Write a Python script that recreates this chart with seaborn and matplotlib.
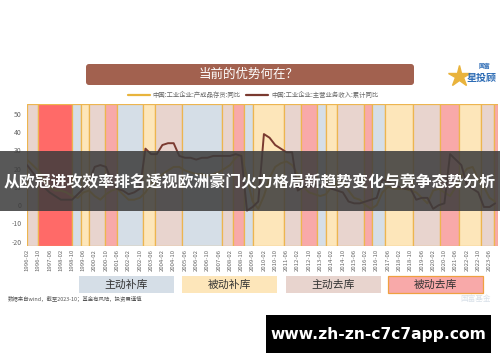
import numpy as np
import pandas as pd
import matplotlib
matplotlib.use("Agg")
import matplotlib.pyplot as plt
import seaborn as sns
from matplotlib.patches import Rectangle, FancyBboxPatch

sns.set_theme(style="white")
plt.rcParams["font.family"] = ["Noto Sans CJK SC", "DejaVu Sans"]
plt.rcParams["axes.unicode_minus"] = False

# ---------------- data ----------------
series_names = ["中国:工业企业:产成品存货:同比", "中国:工业企业:主营业务收入:累计同比"]
start_month = "1996-02"
end_month = "2023-10"
step_months = 4  # one reading every 4 months (Feb, Jun, Oct)

inventory_yoy = [
    25, 22, 19,   14, 10, 8,    8, 7, 5,      4, 7, 8,
    5, 3, 6,      8, 9, 6,      3, 3, 4,      7, 12, 14,
    17, 19, 21,   21, 19, 18,   17, 17, 16,   17, 18, 20,
    22, 26, 28,   15, 2, -2,    5, 15, 21,    23, 24, 22,
    17, 10, 7,    6, 5, 6,      10, 12, 13,   8, 4, 3,
    0, -2, 0,     7, 10, 9,     9, 9, 8,      7, 4, 1,
    8, 9, 7,      5, 10, 16,    20, 21, 14,   10, 4, 2,
]
revenue_yoy = [
    22, 18, 14,   10, 7, 5,     3, 3, 3,      6, 9, 13,
    21, 22, 21,   13, 9, 8,     6, 7, 9,      31, 28, 28,
    33, 34, 34,   27, 26, 26,   25, 26, 26,   27, 27, 27,
    27, 28, 27,   -3, -1, 2,    39, 37, 33,   31, 29, 29,
    8, 10, 10,    11, 11, 11,   9, 8, 7,      2, 1, 1,
    2, 3, 4,      14, 13, 11,   10, 9, 9,     3, 4, 4,
    -2, 0, 1,     28, 25, 22,   11, 9, 7,     -1, -1, 1,
]

phase_names = ["主动补库", "被动补库", "主动去库", "被动去库"]
band_starts = ["1996-02", "1996-10", "1998-10", "1999-04", "1999-10", "2000-09",
               "2001-06", "2002-12", "2003-09", "2005-04", "2007-08", "2008-04",
               "2008-12", "2009-06", "2011-04", "2012-04", "2013-04", "2013-10",
               "2014-06", "2016-01", "2016-07", "2017-04", "2018-12", "2020-07",
               "2021-08", "2022-12", "2023-09"]
band_kinds = ["主动去库", "被动去库*", "主动补库", "被动补库", "主动去库", "被动去库",
              "主动补库", "被动补库", "主动去库", "主动补库", "主动去库", "被动去库",
              "主动补库", "被动补库", "主动去库", "被动去库", "主动补库", "被动补库",
              "主动去库", "被动去库", "主动补库", "被动补库", "主动去库", "被动去库",
              "被动补库", "主动去库", "被动去库"]
band_end = "2023-12"

tick_labels = ["1996-02", "1996-10", "1997-06", "1998-02", "1998-10", "1999-06",
               "2000-02", "2000-10", "2001-06", "2002-02", "2002-10", "2003-06",
               "2004-02", "2004-10", "2005-06", "2006-02", "2006-10", "2007-06",
               "2008-02", "2008-10", "2009-06", "2010-02", "2010-10", "2011-06",
               "2012-02", "2012-10", "2013-06", "2014-02", "2014-10", "2015-06",
               "2016-02", "2016-10", "2017-06", "2018-02", "2018-10", "2019-06",
               "2020-02", "2020-10", "2021-06", "2022-02", "2022-10", "2023-06"]

# ---------------- styles ----------------
line_colors = ["#E8B43C", "#7A3A30"]
phase_colors = {"主动补库": "#D5DEE7", "被动补库": "#FDE6BA", "主动去库": "#E8D4CE",
                "被动去库": "#F8A9A9", "被动去库*": "#FF6A68"}
gold = "#EDB54F"

base = pd.Period(start_month, "M")


def midx(s):
    return (pd.Period(s, "M") - base).n


months = pd.period_range(start_month, end_month, freq="M")[::step_months]
pos = [(p - base).n for p in months]
df = pd.DataFrame({
    "pos": pos * 2,
    "value": inventory_yoy + revenue_yoy,
    "series": [series_names[0]] * len(pos) + [series_names[1]] * len(pos),
})

W, H = 500, 362
fig = plt.figure(figsize=(W / 100, H / 100), dpi=100)
fig.patch.set_facecolor("white")
ax = fig.add_axes([27 / W, 1 - 246 / H, 471 / W, 142 / H])
ax.set_facecolor("white")

edges = [midx(s) for s in band_starts] + [midx(band_end)]
for i, k in enumerate(band_kinds):
    ax.axvspan(edges[i], edges[i + 1], facecolor=phase_colors[k], edgecolor=gold,
               linewidth=0.9, zorder=0)

sns.lineplot(data=df, x="pos", y="value", hue="series", palette=line_colors,
             linewidth=1.4, ax=ax, zorder=3)

ax.set_xlim(0, midx(band_end))
ax.set_ylim(-22.4, 55.5)
ax.set_yticks([-20, -10, 0, 10, 20, 30, 40, 50])
ax.set_xticks([midx(t) for t in tick_labels])
ax.set_xticklabels(tick_labels, rotation=90)
ax.tick_params(axis="x", labelsize=4.3, colors="#666666", length=0, pad=2)
ax.tick_params(axis="y", labelsize=5, colors="#666666", length=0, pad=4)
ax.set_xlabel("")
ax.set_ylabel("")
for s in ax.spines.values():
    s.set_visible(False)

leg = ax.legend(loc="center", bbox_to_anchor=(0.48, 1.065), ncol=2, frameon=False,
                fontsize=4.6, handlelength=3.4, columnspacing=0.8,
                handletextpad=0.5, labelcolor="#666666")
for h in leg.get_lines():
    h.set_linewidth(1.6)

# ---------------- overlay decorations ----------------
ov = fig.add_axes([0, 0, 1, 1], zorder=10)
ov.set_xlim(0, W)
ov.set_ylim(H, 0)
ov.axis("off")
ov.patch.set_alpha(0)

ov.add_patch(FancyBboxPatch((86, 64), 328, 21,
                            boxstyle="round,pad=0,rounding_size=3",
                            fc="#A2614F", ec="none"))
ov.text(249, 74.5, "当前的优势何在？", color="white", fontsize=9,
        ha="center", va="center")

# logo
ov.plot(459, 76, marker="*", ms=16, color="#E9B33C", mec="#E9B33C")
ov.text(482, 78, "星投顾", color="#2D6CB5", fontsize=7.2, fontweight="bold",
        ha="center", va="center")
ov.text(484, 66, "国富", color="#2D6CB5", fontsize=4.2, fontweight="bold",
        ha="center", va="center")

# phase legend boxes
box_x = [79, 182, 286, 388]
for name, x0 in zip(phase_names, box_x):
    ec = "#F0A040" if name == "被动去库" else "none"
    ov.add_patch(Rectangle((x0, 276), 95, 17, fc=phase_colors[name], ec=ec, lw=0.9))
    ov.text(x0 + 47.5, 284.5, name, fontsize=7.8, color="#333333",
            ha="center", va="center")

ov.text(476, 299, "国富基金", fontsize=5.5, color="#9FB3C8", alpha=0.4,
        ha="center", va="center")

ov.text(8, 299, "数据来自wind，截至2023-10；基金有风险，投资需谨慎",
        fontsize=3.9, color="#555555", ha="left", va="center")

# banner
ov.add_patch(Rectangle((0, 151), W, 60, fc="#3C3C3C", alpha=0.86, ec="none"))
ov.text(250, 181, "从欧冠进攻效率排名透视欧洲豪门火力格局新趋势变化与竞争态势分析",
        color="white", fontsize=11.4, fontweight="bold", ha="center", va="center")

# url box
ov.add_patch(Rectangle((266, 315), 225, 38, fc="black", ec="none"))
ov.text(378.5, 334, "www.zh-zn-c7c7app.com", color="white", fontsize=11.2,
        fontweight="bold", family="DejaVu Sans", ha="center", va="center")

fig.savefig("out.png", dpi=100)
